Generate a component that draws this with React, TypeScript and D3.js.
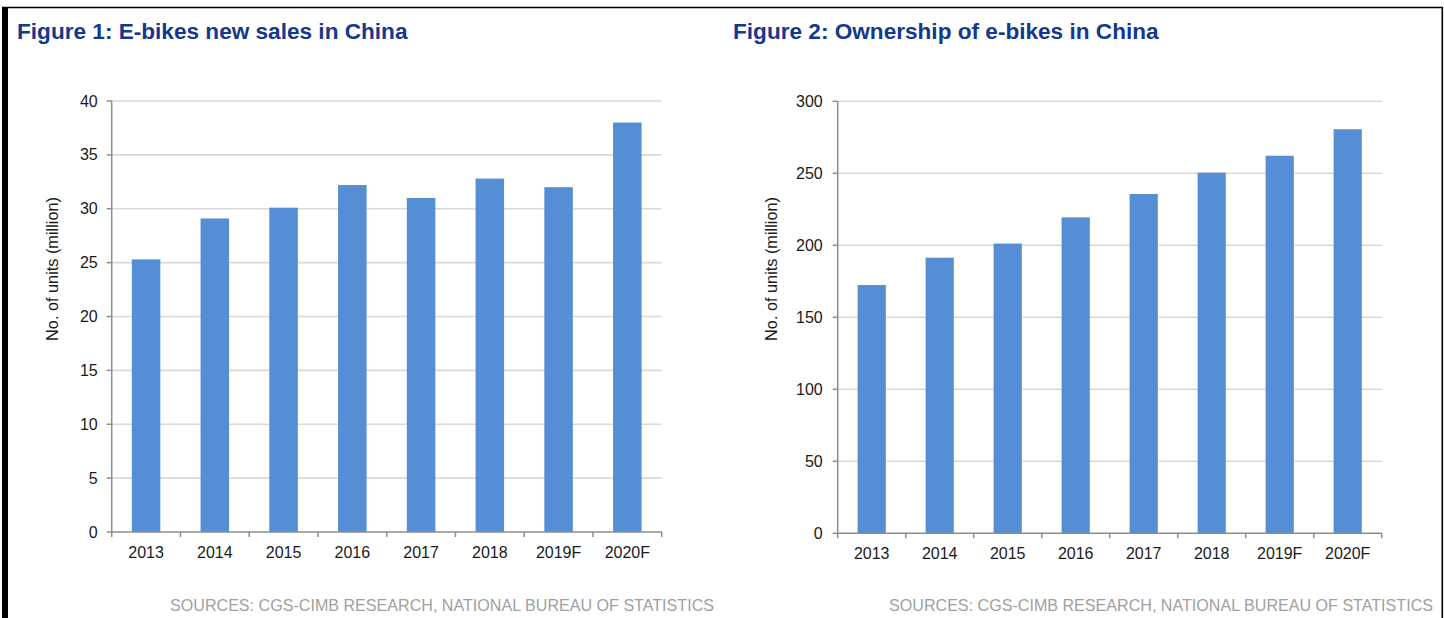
import React from "react";
import * as d3 from "d3";

const categories = ["2013", "2014", "2015", "2016", "2017", "2018", "2019F", "2020F"];
const salesValues = [25.3, 29.1, 30.1, 32.2, 31.0, 32.8, 32.0, 38.0];
const ownershipValues = [172.4, 191.4, 201.2, 219.4, 235.6, 250.4, 262.2, 280.6];
const salesTicks = [0, 5, 10, 15, 20, 25, 30, 35, 40];
const ownershipTicks = [0, 50, 100, 150, 200, 250, 300];
const titles = ["Figure 1: E-bikes new sales in China", "Figure 2: Ownership of e-bikes in China"];
const yLabel = "No. of units (million)";
const sourceText = "SOURCES: CGS-CIMB RESEARCH, NATIONAL BUREAU OF STATISTICS";

const W = 1444;
const H = 618;
const FONT = "Arial, 'Liberation Sans', Helvetica, sans-serif";
const BAR = "#558ed5";
const GRID = "#d9d9d9";
const AXIS = "#8c8c8c";
const TITLE = "#14378f";

type PanelProps = {
  title: string;
  values: number[];
  ticks: number[];
  x0: number;
  x1: number;
  yTop: number;
  yBottom: number;
  titleX: number;
  labelX: number;
  tickGap: number;
  sourceRight: number;
};

function Panel(p: PanelProps) {
  const max = p.ticks[p.ticks.length - 1];
  const x = d3
    .scaleBand<string>()
    .domain(categories)
    .range([p.x0, p.x1])
    .paddingInner(0.585)
    .paddingOuter(0.2925);
  const y = d3.scaleLinear().domain([0, max]).range([p.yBottom, p.yTop]);
  const step = x.step();
  const boundaries = d3.range(categories.length + 1).map((i) => p.x0 + i * step);
  return (
    <g>
      <text x={p.titleX} y={39} fontFamily={FONT} fontWeight="bold" fontSize={22.6} fill={TITLE}>
        {p.title}
      </text>
      {p.ticks
        .filter((t) => t > 0)
        .map((t) => (
          <line key={"g" + t} x1={p.x0} x2={p.x1} y1={y(t)} y2={y(t)} stroke={GRID} strokeWidth={1.6} />
        ))}
      {categories.map((c, i) => (
        <rect
          key={c}
          x={x(c)}
          y={y(p.values[i])}
          width={x.bandwidth()}
          height={y(0) - y(p.values[i])}
          fill={BAR}
        />
      ))}
      <line x1={p.x0} x2={p.x0} y1={p.yTop} y2={p.yBottom} stroke={AXIS} strokeWidth={1.5} />
      <line x1={p.x0} x2={p.x1} y1={p.yBottom} y2={p.yBottom} stroke={AXIS} strokeWidth={1.5} />
      {p.ticks.map((t) => (
        <g key={"t" + t}>
          <line x1={p.x0 - 5} x2={p.x0} y1={y(t)} y2={y(t)} stroke={AXIS} strokeWidth={1.5} />
          <text
            x={p.x0 - p.tickGap}
            y={y(t) + 5.6}
            textAnchor="end"
            fontFamily={FONT}
            fontSize={16}
            fill="#1a1a1a"
          >
            {t}
          </text>
        </g>
      ))}
      {boundaries.map((b, i) => (
        <line key={"b" + i} x1={b} x2={b} y1={p.yBottom} y2={p.yBottom + 5} stroke={AXIS} strokeWidth={1.5} />
      ))}
      {categories.map((c) => (
        <text
          key={"l" + c}
          x={(x(c) as number) + x.bandwidth() / 2}
          y={p.yBottom + 25.5}
          textAnchor="middle"
          fontFamily={FONT}
          fontSize={16}
          fill="#1a1a1a"
        >
          {c}
        </text>
      ))}
      <text
        transform={`translate(${p.labelX},269) rotate(-90)`}
        textAnchor="middle"
        fontFamily={FONT}
        fontSize={16.3}
        fill="#1a1a1a"
      >
        {yLabel}
      </text>
      <text x={p.sourceRight} y={611} textAnchor="end" fontFamily={FONT} fontSize={16.1} fill="#a0a0a0">
        {sourceText}
      </text>
    </g>
  );
}

export default function App() {
  return (
    <svg
      width={W}
      height={H}
      viewBox={`0 0 ${W} ${H}`}
      style={{ position: "absolute", left: 0, top: 0, background: "#fff", display: "block" }}
    >
      <rect x={0} y={0} width={W} height={H} fill="#fff" />
      <line x1={2} x2={1443} y1={7.5} y2={7.5} stroke="#000" strokeWidth={1.6} />
      <line x1={1442.3} x2={1442.3} y1={7} y2={H} stroke="#000" strokeWidth={1.6} />
      <rect x={2} y={7} width={6} height={H - 7} fill="#000" />
      <Panel
        title={titles[0]}
        values={salesValues}
        ticks={salesTicks}
        x0={111.7}
        x1={661.7}
        yTop={101}
        yBottom={532}
        titleX={17}
        labelX={58}
        tickGap={14}
        sourceRight={714}
      />
      <Panel
        title={titles[1]}
        values={ownershipValues}
        ticks={ownershipTicks}
        x0={837.7}
        x1={1381.7}
        yTop={101.3}
        yBottom={533.3}
        titleX={733}
        labelX={777}
        tickGap={15}
        sourceRight={1433}
      />
    </svg>
  );
}
